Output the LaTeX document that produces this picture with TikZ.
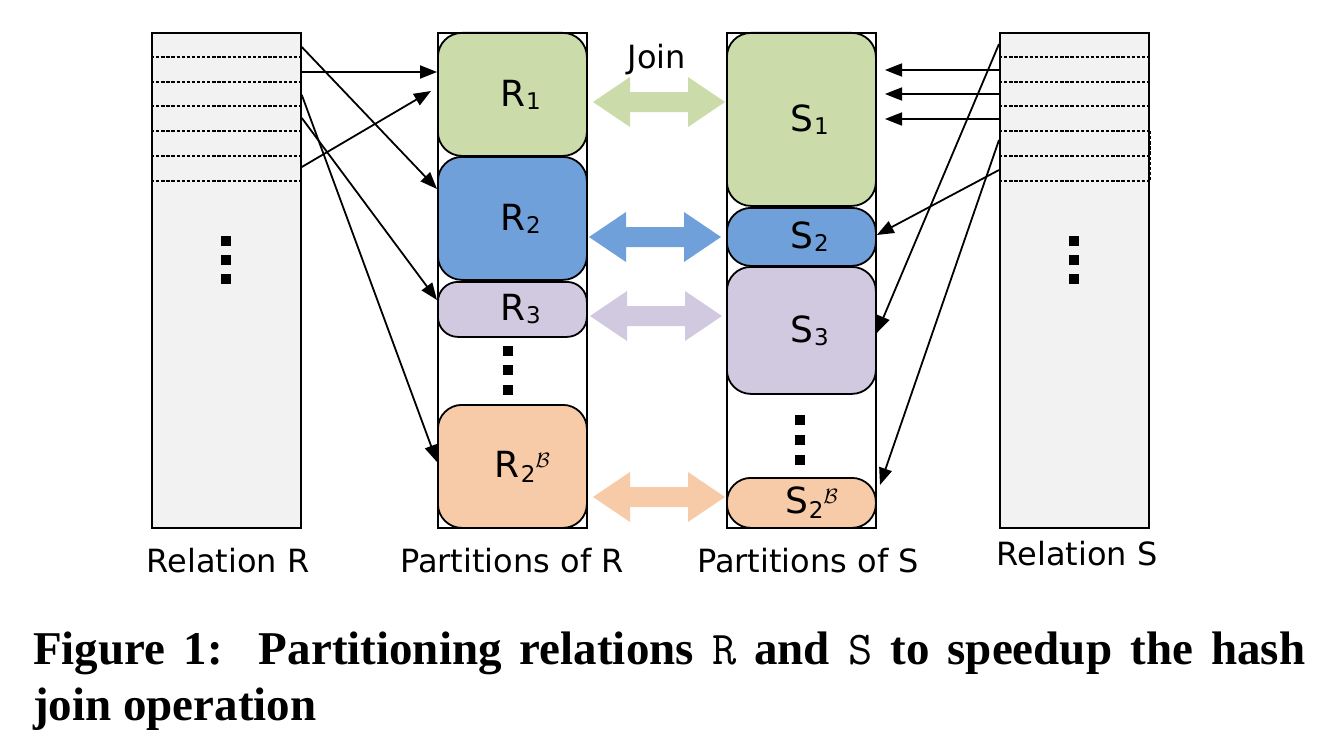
\documentclass[tikz,border=0pt]{standalone}
\usepackage{fontspec}
\setmainfont{DejaVu Sans}
\newfontfamily\capfont{Liberation Serif}
\usetikzlibrary{arrows.meta}
\definecolor{cgreen}{HTML}{CCDBAA}
\definecolor{cblue}{HTML}{70A0DA}
\definecolor{cpurple}{HTML}{D1C9E0}
\definecolor{corange}{HTML}{F8CBA8}
\definecolor{relgray}{HTML}{F2F2F2}
\newcommand\psub[1]{\hspace{1pt}\raisebox{-3pt}{\fontsize{23}{23}\selectfont #1}}
\newcommand\psubB{\hspace{1pt}\raisebox{-5pt}{\fontsize{23}{23}\selectfont 2\raisebox{15pt}{\fontsize{22}{22}\selectfont$\mathcal{B}$}}}
\begin{document}
\begin{tikzpicture}[x=1pt,y=-1pt,
  relbox/.style={draw, line width=1.8pt, fill=relgray, minimum width=149pt, minimum height=495pt, inner sep=0pt, anchor=north west},
  colbox/.style={draw, line width=1.8pt, fill=white, minimum width=149pt, minimum height=495pt, inner sep=0pt, anchor=north west},
  part/.style={draw, line width=1.8pt, rounded corners=24pt, minimum width=149pt, inner sep=0pt, anchor=north west, font=\fontsize{36}{40}\selectfont},
  lab/.style={font=\fontsize{32}{36}\selectfont, inner sep=0pt},
  conn/.style={line width=1.8pt, -{Triangle[length=17pt,width=13pt]}},
  sq/.style={fill=black, minimum size=10.5pt, inner sep=0pt},
  rowline/.style={line width=1.6pt, dash pattern=on 3.3pt off 1.8pt},
  capline/.style={anchor=base west, inner sep=0pt, font=\capfont\bfseries\fontsize{47}{56}\selectfont},
  jarrow/.pic={\fill (0,0) -- (37,-25) -- (37,-10) -- (95,-10) -- (95,-25) -- (132,0) -- (95,25) -- (95,10) -- (37,10) -- (37,25) -- cycle;}
]
\useasboundingbox (0,0) rectangle (1339,752);

% columns
\node[relbox] (relR) at (151,32) {};
\node[colbox] (partR) at (437,32) {};
\node[colbox] (partS) at (726,32) {};
\node[relbox] (relS) at (999,32) {};

% dashed rows
\foreach \yy in {57,82,106,131,156,181}{
  \draw[rowline] (relR.west |- 0,\yy) -- (relR.east |- 0,\yy);
  \draw[rowline] (relS.west |- 0,\yy) -- (relS.east |- 0,\yy);
}
\draw[rowline] (1150,131) -- (1150,181);

% partitions of R
\node[part, fill=cgreen, minimum height=123pt] (R1) at (437,32) {\hspace*{16pt}R\psub{1}};
\node[part, fill=cblue, minimum height=123pt] (R2) at (437,156) {\hspace*{16pt}R\psub{2}};
\node[part, fill=cpurple, minimum height=55pt, rounded corners=20pt] (R3) at (437,281) {\hspace*{16pt}R\psub{3}};
\node[part, fill=corange, minimum height=123pt] (R2B) at (437,404) {\hspace*{20pt}R\psubB};

% partitions of S
\node[part, fill=cgreen, minimum height=173pt] (S1) at (726,32) {\hspace*{16pt}S\psub{1}};
\node[part, fill=cblue, minimum height=58pt] (S2) at (726,207) {\hspace*{16pt}S\psub{2}};
\node[part, fill=cpurple, minimum height=127pt] (S3) at (726,266) {\hspace*{16pt}S\psub{3}};
\node[part, fill=corange, minimum height=50pt] (S2B) at (726,477) {\hspace*{20pt}S\psubB};

% dots
\foreach \yy [count=\i] in {241,260,279}{
  \node[sq] (dR\i) at (226,\yy) {};
  \node[sq] (dS\i) at (1074,\yy) {};
}
\foreach \yy [count=\i] in {351,370,390}{
  \node[sq] (dPR\i) at (508,\yy) {};
}
\foreach \yy [count=\i] in {420,440,460}{
  \node[sq] (dPS\i) at (800,\yy) {};
}

% join arrows
\node[lab] (join) at (657,60) {Join};
\pic[color=cgreen] at (593,102) {jarrow};
\pic[color=cblue] at (589,237) {jarrow};
\pic[color=cpurple] at (590,316) {jarrow};
\pic[color=corange] at (593,497) {jarrow};

% connectors from R
\coordinate (ra) at (relR.east |- 0,47);
\coordinate (rb) at (relR.east |- 0,72);
\coordinate (rc) at (relR.east |- 0,95);
\coordinate (rd) at (relR.east |- 0,118);
\coordinate (re) at (relR.east |- 0,167);
\coordinate (tR2) at (R2.west |- 0,189);
\coordinate (tR2B) at (R2B.west |- 0,462);
\coordinate (tR3) at (R3.west |- 0,300);
\coordinate (tR1) at (431,91);
\draw[conn] (ra) -- (tR2);
\draw[conn] (rb) -- (rb -| R1.west);
\draw[conn] (rc) -- (tR2B);
\draw[conn] (rd) -- (tR3);
\draw[conn] (re) -- (tR1);

% connectors from S
\coordinate (sa) at (relS.west |- 0,44);
\coordinate (sb) at (relS.west |- 0,70);
\coordinate (sc) at (relS.west |- 0,94);
\coordinate (sd) at (relS.west |- 0,119);
\coordinate (se) at (relS.west |- 0,140);
\coordinate (sf) at (relS.west |- 0,170);
\coordinate (tS3) at (S3.east |- 0,333);
\coordinate (tS2) at (S2.east |- 0,235);
\coordinate (tS2B) at (880,485);
\draw[conn] (sa) -- (tS3);
\draw[conn] (sb) -- (885,70);
\draw[conn] (sc) -- (885,94);
\draw[conn] (sd) -- (885,119);
\draw[conn] (se) -- (tS2B);
\draw[conn] (sf) -- (tS2);

% labels
\node[lab] (lR) at (228,561) {Relation R};
\node[lab] (lPR) at (512,561) {Partitions of R};
\node[lab] (lPS) at (808,561) {Partitions of S};
\node[lab] (lS) at (1077,554) {Relation S};

% caption
\node[capline] (cap1) at (33,664) {\makebox[1272pt][s]{Figure 1:\ \ Partitioning relations {\normalfont\ttfamily R} and {\normalfont\ttfamily S} to speedup the hash}};
\node[capline] (cap2) at (33,720) {join operation};
\end{tikzpicture}
\end{document}
